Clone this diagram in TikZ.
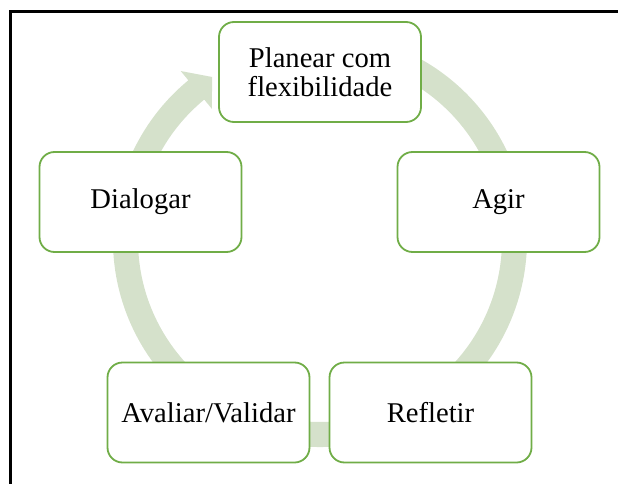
\documentclass[tikz,border=0pt]{standalone}
\usepackage{fontspec}
\setmainfont{Liberation Serif}
\definecolor{boxgreen}{RGB}{112,173,71}
\definecolor{ringgreen}{RGB}{213,225,203}
\begin{document}
\begin{tikzpicture}[x=1pt,y=1pt,
  stepbox/.style={draw=boxgreen, line width=1.8pt, fill=white, rounded corners=15pt,
    minimum width=202pt, minimum height=100pt, align=center, inner sep=0pt,
    font=\fontsize{28.6}{28.5}\selectfont}]
\useasboundingbox (0,0) rectangle (618,483);
\coordinate (C) at (320,243);
% ring with arrowhead
\fill[ringgreen] ([shift={(80:207pt)}]C) arc[start angle=80,end angle=-230.5,radius=207pt]
  -- ([shift={(-230.5:219pt)}]C) -- ([shift={(-236.5:195.5pt)}]C)
  -- ([shift={(-230.5:170pt)}]C) -- ([shift={(-230.5:182pt)}]C)
  arc[start angle=-230.5,end angle=80,radius=182pt] -- cycle;
% frame
\draw[line width=3pt] (10.8,-5) -- (10.8,471.7) -- (625,471.7);
% boxes
\node[stepbox] (plan) at (320,411) {Planear com\\flexibilidade};
\node[stepbox] (agir) at (498.5,281) {Agir};
\node[stepbox] (dial) at (140.5,281) {Dialogar};
\node[stepbox] (aval) at (208.5,70.5) {Avaliar/Validar};
\node[stepbox] (refl) at (430.5,70.5) {Refletir};
\end{tikzpicture}
\end{document}
